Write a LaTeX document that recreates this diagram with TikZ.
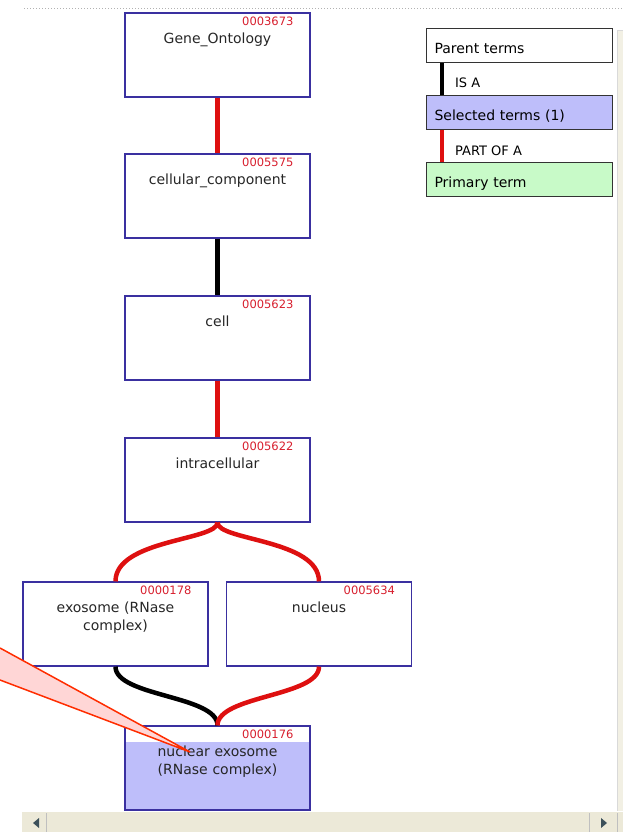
\documentclass[tikz,border=0pt]{standalone}
\usepackage{fontspec}
\setmainfont{DejaVu Sans}
\usetikzlibrary{positioning}
\definecolor{boxblue}{RGB}{58,48,160}
\definecolor{idred}{RGB}{215,30,45}
\definecolor{linkred}{RGB}{222,16,16}
\definecolor{selfill}{RGB}{190,190,250}
\definecolor{primfill}{RGB}{200,250,200}
\definecolor{barbeige}{RGB}{236,233,216}
\definecolor{callred}{RGB}{255,45,0}
\definecolor{arrowgrey}{RGB}{60,80,90}

\begin{document}
\begin{tikzpicture}
	[x=1pt, y=1pt, on grid, node distance=142pt,
	 term/.style={rectangle, draw=boxblue, line width=1.2pt, inner sep=0pt,
	   minimum width=185pt, minimum height=84pt, text width=185pt, align=center,
	   text height=31pt, text depth=53pt, text=black!85, font=\fontsize{14}{18}\selectfont},
	 idnum/.style={anchor=base east, xshift=-17pt, yshift=-13.5pt, inner sep=0pt,
	   text=idred, font=\fontsize{11.5}{11.5}\selectfont},
	 isa/.style={draw=black, line width=4.5pt},
	 partof/.style={draw=linkred, line width=4.5pt},
	 legend/.style={rectangle, draw=black!80, line width=1.2pt, inner ysep=0pt,
	   inner xsep=8pt, text width=170pt, align=left, minimum height=34pt,
	   text height=25pt, text depth=9pt, font=\fontsize{14}{16}\selectfont},
	 linklabel/.style={anchor=base west, inner sep=0pt, font=\fontsize{13}{13}\selectfont}]
   \useasboundingbox (0,0) rectangle (623,832);
   \draw[black!30, dotted, line width=1pt] (24,823) -- (623,823);

   % term boxes
   \node[term, label={[idnum, name=go-id]north east:0003673}] (go) at (217.5,777) {Gene\_Ontology};
   \node[term, label={[idnum, name=cc-id]north east:0005575}] (cc) [below=141pt of go] {cellular\_component};
   \node[term, label={[idnum, name=cell-id]north east:0005623}] (cell) [below=of cc] {cell};
   \node[term, label={[idnum, name=ic-id]north east:0005622}] (ic) [below=of cell] {intracellular};
   \node[term, label={[idnum, name=exo-id]north east:0000178}] (exo) [below left=144pt and 102pt of ic] {exosome (RNase\\complex)};
   \node[term, label={[idnum, name=nuc-id]north east:0005634}] (nuc) [below right=144pt and 101.5pt of ic] {nucleus};
   \node[term, label={[idnum, name=nucexo-id]north east:0000176},
         path picture={\fill[selfill] ([yshift=-16pt]path picture bounding box.north west)
                       rectangle (path picture bounding box.south east);}]
         (nucexo) [below right=144pt and 102pt of exo] {nuclear exosome\\(RNase complex)};

   % links
   \draw[partof] (go) -- (cc);
   \draw[isa] (cc) -- (cell);
   \draw[partof] (cell) -- (ic);
   \draw[partof] (ic.south) .. controls +(0,-18) and +(0,42) .. (exo.north);
   \draw[partof] (ic.south) .. controls +(0,-18) and +(0,42) .. (nuc.north);
   \draw[isa] (exo.south) .. controls +(0,-30) and +(0,30) .. (nucexo.north);
   \draw[partof] (nuc.south) .. controls +(0,-30) and +(0,30) .. (nucexo.north);

   % legend
   \node[legend] (parent) at (519.5,786.5) {Parent terms};
   \node[legend, fill=selfill] (selected) [below=67pt of parent] {Selected terms (1)};
   \node[legend, fill=primfill] (primary) [below=67pt of selected] {Primary term};
   \draw[isa, line width=4pt] ([xshift=16pt]parent.south west) -- ([xshift=16pt]selected.north west);
   \draw[partof, line width=4pt] ([xshift=16pt]selected.south west) -- ([xshift=16pt]primary.north west);
   \node[linklabel] (isa-lbl) at ([xshift=29pt, yshift=-24.5pt]parent.south west) {IS A};
   \node[linklabel] (partof-lbl) at ([xshift=29pt, yshift=-25.5pt]selected.south west) {PART OF A};

   % callout
   \fill[red!16] (0,184) -- (190,80) -- (0,152) -- cycle;
   \draw[callred, line width=1.5pt, line join=miter] (0,184) -- (190,80) -- (0,152);

   % scroll bars
   \fill[barbeige!70] (617,20) rectangle (623,802);
   \draw[black!15] (617,20) -- (617,802) -- (623,802);
   \fill[barbeige] (22,0) rectangle (623,20);
   \draw[white, line width=1pt] (22,20) -- (623,20);
   \draw[black!25] (46,0) -- (46,19) (589,0) -- (589,19) (617,0) -- (617,19);
   \fill[arrowgrey] (33,9) -- (39,14) -- (39,4) -- cycle;
   \fill[arrowgrey] (607,9) -- (601,14) -- (601,4) -- cycle;
\end{tikzpicture}
\end{document}
